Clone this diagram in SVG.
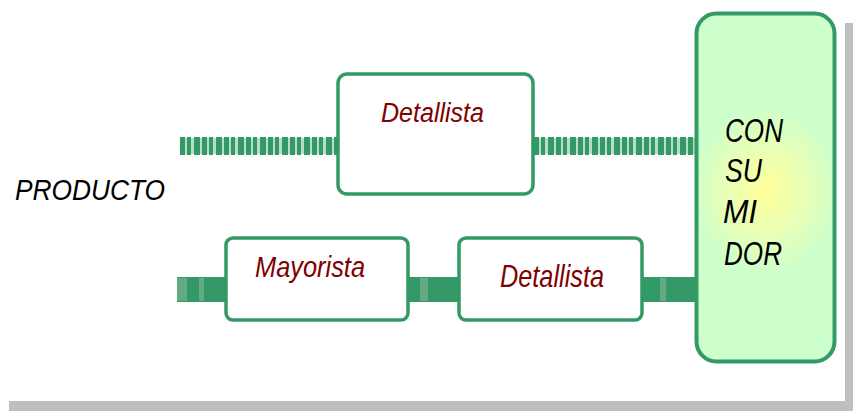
<svg xmlns="http://www.w3.org/2000/svg" width="853" height="411" viewBox="0 0 853 411">
<defs>
<radialGradient id="cg" cx="0.5" cy="0.52" r="0.55" fx="0.5" fy="0.52" gradientTransform="translate(0.5 0.5) scale(1 0.45) translate(-0.5 -0.5)">
<stop offset="0" stop-color="#ffff99"/>
<stop offset="0.55" stop-color="#e6ffb8"/>
<stop offset="1" stop-color="#ccffcc"/>
</radialGradient>
</defs>
<style>
.box{fill:#ffffff;stroke:#339966;stroke-width:3.5}
.lbl{font-family:"Liberation Sans",Arial,sans-serif;font-style:italic;fill:#800000}
.blk{font-family:"Liberation Sans",Arial,sans-serif;font-style:italic;fill:#000000}
.dash{stroke:#339966;stroke-width:18;stroke-dasharray:5 2 4 3 6 2}
.dashbg{stroke:#b8dcc7;stroke-width:16}
.solid{fill:#339966}
.light{fill:#66aa85}
</style>
<rect width="853" height="411" fill="#ffffff"/>
<g id="shadow">
<rect x="9" y="401" width="844" height="10" fill="#bfbfbf"/>
<rect x="845" y="23" width="8" height="388" fill="#bfbfbf"/>
</g>
<g id="connectors">
<line class="dashbg" x1="180" y1="146" x2="337" y2="146"/>
<line class="dash" x1="180" y1="146" x2="337" y2="146"/>
<line class="dashbg" x1="534" y1="146" x2="697" y2="146"/>
<line class="dash" x1="534" y1="146" x2="697" y2="146"/>
<rect class="solid" x="177" y="277" width="49" height="25"/>
<rect class="light" x="177" y="278" width="10" height="23"/>
<rect class="light" x="199" y="278" width="5" height="23"/>
<rect class="solid" x="408" y="277" width="50" height="25"/>
<rect class="light" x="420" y="278" width="8" height="23"/>
<rect class="solid" x="642" y="277" width="56" height="25"/>
<rect class="light" x="660" y="278" width="6" height="23"/>
</g>
<g id="producto">
<text class="blk" x="15" y="200" font-size="30" textLength="150" lengthAdjust="spacingAndGlyphs">PRODUCTO</text>
</g>
<g id="detallista-top">
<rect class="box" x="338" y="74" width="195" height="120" rx="9"/>
<text class="lbl" x="381" y="122" font-size="27" textLength="103" lengthAdjust="spacingAndGlyphs">Detallista</text>
</g>
<g id="mayorista">
<rect class="box" x="226" y="238" width="182" height="82" rx="7"/>
<text class="lbl" x="255" y="277" font-size="30" textLength="110" lengthAdjust="spacingAndGlyphs">Mayorista</text>
</g>
<g id="detallista-bottom">
<rect class="box" x="459" y="238" width="183" height="82" rx="7"/>
<text class="lbl" x="500" y="287" font-size="32" textLength="104" lengthAdjust="spacingAndGlyphs">Detallista</text>
</g>
<g id="consumidor">
<rect x="696.5" y="13.5" width="138" height="348" rx="20" fill="url(#cg)" stroke="#339966" stroke-width="4"/>
<text class="blk" font-size="34">
<tspan x="725" y="142" textLength="58" lengthAdjust="spacingAndGlyphs">CON</tspan>
<tspan x="725" y="182" textLength="37" lengthAdjust="spacingAndGlyphs">SU</tspan>
<tspan x="723" y="223" textLength="34" lengthAdjust="spacingAndGlyphs">MI</tspan>
<tspan x="724" y="265" textLength="58" lengthAdjust="spacingAndGlyphs">DOR</tspan>
</text>
</g>
</svg>
